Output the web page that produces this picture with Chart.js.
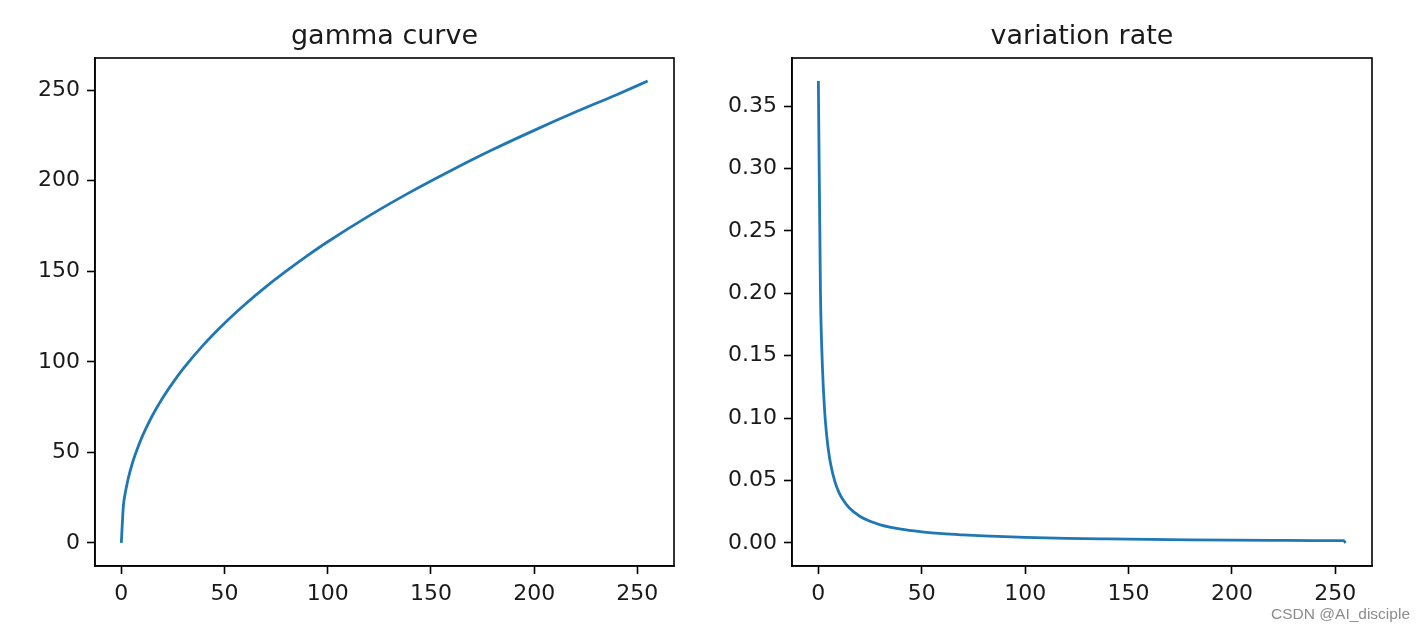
<!DOCTYPE html>
<html>
<head>
<meta charset="utf-8">
<script src="https://cdn.jsdelivr.net/npm/chart.js@4.4.1/dist/chart.umd.min.js"></script>
<style>
  html, body { margin: 0; padding: 0; background: #fff; }
  #wrap { position: relative; width: 1425px; height: 633px; overflow: hidden; background: #fff; }
  canvas { position: absolute; top: 0; }
  #c1 { left: 0; }
  #c2 { left: 712px; }
  #wm { position: absolute; right: 15px; top: 606px; font: 15.5px "Liberation Sans", Arial, sans-serif; color: #8c8c8c; line-height: 1; white-space: nowrap; }
</style>
</head>
<body>
<div id="wrap">
  <canvas id="c1" width="712" height="633"></canvas>
  <canvas id="c2" width="713" height="633"></canvas>
  <div id="wm">CSDN @AI_disciple</div>
</div>
<script>
// ---- data ----
const gammaTitle = "gamma curve";
const rateTitle = "variation rate";

const gammaX = [0, 1, 2, 3, 4, 5, 6, 8, 10, 12, 15, 20, 25, 30, 40, 50, 60, 70, 80, 90, 100, 120, 140, 160, 180, 200, 220, 240, 255];
const gammaY = [0, 20.5, 28.1, 33.8, 38.5, 42.6, 46.3, 52.7, 58.4, 63.4, 70.2, 80.0, 88.5, 96.2, 109.6, 121.3, 131.8, 141.4, 150.2, 158.5, 166.3, 180.6, 193.7, 205.8, 217.2, 227.8, 237.9, 247.5, 255];

const rateX = [0, 1, 2, 3, 4, 5, 6, 8, 10, 12, 15, 20, 25, 30, 40, 50, 60, 70, 80, 100, 120, 140, 160, 180, 200, 220, 240, 254, 255];
const rateY = [0.370, 0.2024, 0.1397, 0.1067, 0.0864, 0.0726, 0.0626, 0.0491, 0.0403, 0.0343, 0.0279, 0.0214, 0.0173, 0.0145, 0.0110, 0.0089, 0.0074, 0.0064, 0.0056, 0.0045, 0.0037, 0.0032, 0.0028, 0.0025, 0.00225, 0.00205, 0.00188, 0.00178, 0];

const gammaXTicks = [0, 50, 100, 150, 200, 250];
const gammaYTicks = [0, 50, 100, 150, 200, 250];
const rateXTicks = [0, 50, 100, 150, 200, 250];
const rateYTicks = [0, 0.05, 0.10, 0.15, 0.20, 0.25, 0.30, 0.35];

// ---- rendering ----
const FONT = "'DejaVu Sans', sans-serif";
const LINE = '#1f77b4';
const AXIS = '#000000';
const TEXT = '#1a1a1a';

function padded(arr) {
  const lo = Math.min(...arr), hi = Math.max(...arr);
  const m = (hi - lo) * 0.05;
  return [lo - m, hi + m];
}

const frame = {
  id: 'frame',
  afterDraw(chart) {
    const { ctx, chartArea: a } = chart;
    ctx.save();
    ctx.strokeStyle = AXIS;
    ctx.lineWidth = 1.6;
    ctx.strokeRect(a.left, a.top, a.right - a.left, a.bottom - a.top);
    ctx.restore();
  }
};

function axis(ticksArr, range, fmt, fitFn) {
  return {
    type: 'linear',
    min: range[0],
    max: range[1],
    afterBuildTicks: (s) => { s.ticks = ticksArr.map(v => ({ value: v })); },
    afterFit: fitFn,
    grid: { drawOnChartArea: false, drawTicks: true, tickLength: 8, tickWidth: 1.6, tickColor: AXIS },
    border: { display: true, color: AXIS, width: 1.6 },
    ticks: { padding: 7, color: TEXT, font: { family: FONT, size: 22 }, maxRotation: 0, autoSkip: false, callback: fmt }
  };
}

function makeChart(id, title, xs, ys, xTicks, yTicks, yFmt, yAxisWidth, padRight) {
  const pts = xs.map((x, i) => ({ x: x, y: ys[i] }));
  return new Chart(document.getElementById(id), {
    type: 'line',
    data: { datasets: [{ data: pts, borderColor: LINE, borderWidth: 2.8, pointRadius: 0, fill: false, cubicInterpolationMode: 'monotone' }] },
    plugins: [frame],
    options: {
      responsive: false,
      animation: false,
      devicePixelRatio: 1,
      layout: { padding: { left: 0, right: padRight, top: 0, bottom: 0 } },
      plugins: {
        legend: { display: false },
        tooltip: { enabled: false },
        title: {
          display: true, text: title, fullSize: false, color: TEXT,
          font: { family: FONT, size: 27, weight: 'normal', lineHeight: 1.2 },
          padding: { top: 21, bottom: 4.6 }
        }
      },
      scales: {
        x: axis(xTicks, padded(xs), (v) => String(v), (s) => { s.height = 67; }),
        y: axis(yTicks, padded(ys), yFmt, (s) => { s.width = yAxisWidth; })
      }
    }
  });
}

makeChart('c1', gammaTitle, gammaX, gammaY, gammaXTicks, gammaYTicks, (v) => String(v), 95, 38);
makeChart('c2', rateTitle, rateX, rateY, rateXTicks, rateYTicks, (v) => v.toFixed(2), 80, 53);
</script>
</body>
</html>
